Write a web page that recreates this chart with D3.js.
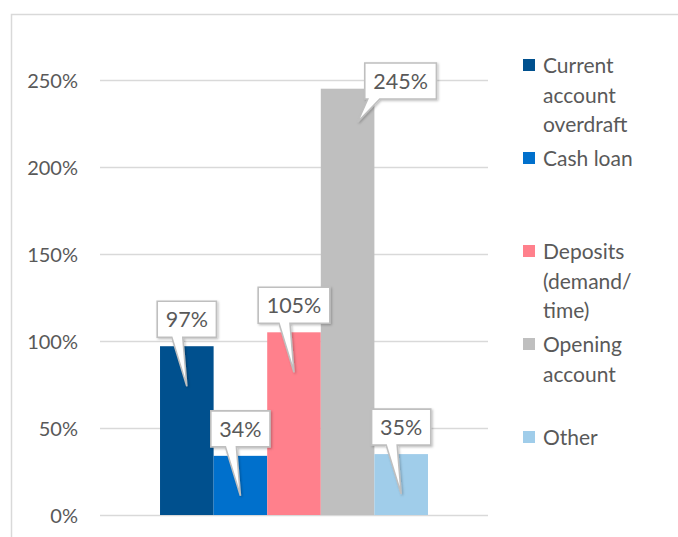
<!DOCTYPE html>
<meta charset="utf-8">
<style>
body { margin: 0; background: #fff; }
text { font-family: Lato, "Open Sans", sans-serif; fill: #595959; }
.grid line { stroke: #d9d9d9; stroke-width: 1.3px; }
.grid text { font-size: 20px; }
.legend text { font-size: 21px; }
.callout path { fill: #fff; stroke: #bfbfbf; stroke-width: 1.6px; }
.callout text { font-size: 21.5px; text-anchor: middle; }
</style>
<body>
<script src="https://cdn.jsdelivr.net/npm/d3@7"></script>
<script>

var width = 678,
    height = 537;

// chart data
var category = "Share";
var series = ["Current account overdraft", "Cash loan", "Deposits (demand/ time)", "Opening account", "Other"];
var values = [0.97, 0.34, 1.05, 2.45, 0.35];
var colors = ["#00508e", "#0070cc", "#ff808c", "#bfbfbf", "#a0cdea"];
var legendLines = [["Current", "account", "overdraft"], ["Cash loan"], ["Deposits", "(demand/", "time)"], ["Opening", "account"], ["Other"]];
var yTicks = [0, 0.5, 1, 1.5, 2, 2.5];

var plot = {left: 100, right: 488, top: 80, bottom: 515};

var svg = d3.select("body").append("svg")
    .attr("width", width)
    .attr("height", height);

var defs = svg.append("defs");
var shadow = defs.append("filter").attr("id", "shadow")
    .attr("x", "-20%").attr("y", "-20%").attr("width", "150%").attr("height", "150%");
shadow.append("feDropShadow")
    .attr("dx", 1.2).attr("dy", 1.2).attr("stdDeviation", 0.8)
    .attr("flood-color", "#000").attr("flood-opacity", 0.25);

// outer chart border
svg.append("path")
    .attr("d", "M11.5," + height + "V14.5H" + width)
    .attr("fill", "none")
    .attr("stroke", "#d9d9d9")
    .attr("stroke-width", 1.5);

var y = d3.scaleLinear().domain([0, 2.5]).range([plot.bottom, plot.top]);

var x0 = d3.scaleBand().domain([category])
    .range([plot.left, plot.right])
    .paddingInner(0.183).paddingOuter(0.183);

var x1 = d3.scaleBand().domain(series)
    .range([x0(category), x0(category) + x0.bandwidth()]);

var grid = svg.append("g")
    .attr("class", "grid")
    .attr("transform", "translate(" + plot.left + ",0)")
    .call(d3.axisLeft(y)
        .tickValues(yTicks)
        .tickFormat(d3.format(".0%"))
        .tickSize(-(plot.right - plot.left))
        .tickPadding(22));
grid.select(".domain").remove();
grid.selectAll("text").attr("dy", "0.36em");

svg.append("g").selectAll("rect")
    .data(series)
    .enter().append("rect")
    .attr("x", function(d) { return x1(d); })
    .attr("y", function(d, i) { return y(values[i]); })
    .attr("width", x1.bandwidth())
    .attr("height", function(d, i) { return y(0) - y(values[i]); })
    .attr("fill", function(d, i) { return colors[i]; });

// callout labels
var fmt = d3.format(".0%");
var boxH = 36;
series.forEach(function(s, i) {
    var cx = x1(s) + x1.bandwidth() / 2,
        top = y(values[i]);
    var g = svg.append("g").attr("class", "callout");
    var path = g.append("path").attr("filter", "url(#shadow)");
    var label = g.append("text").text(fmt(values[i]));
    var w = label.node().getComputedTextLength() + 17;

    var by = top - 45,
        clamped = by < plot.top - 16;
    if (clamped) by = plot.top - 17;
    var bcx = clamped ? cx + 53 : cx,
        bx = bcx - w / 2,
        bottom = by + boxH;
    var tipX = clamped ? cx + 10 : cx,
        tipY = clamped ? bottom + 23 : top + 40;
    var b1 = clamped ? bx + 3 : tipX - 15,
        b2 = clamped ? bx + 15 : tipX - 4;

    path.attr("d", "M" + bx + "," + by + "H" + (bx + w) + "V" + bottom +
        "H" + b2 + "L" + tipX + "," + tipY + "L" + b1 + "," + bottom +
        "H" + bx + "Z");
    label.attr("x", bcx).attr("y", by + 26);
});

// legend
var legend = svg.append("g").attr("class", "legend");
series.forEach(function(s, i) {
    var top = 58 + i * 93;
    legend.append("rect")
        .attr("x", 523).attr("y", top + 1)
        .attr("width", 12).attr("height", 12)
        .attr("fill", colors[i]);
    legendLines[i].forEach(function(line, j) {
        legend.append("text")
            .attr("x", 543)
            .attr("y", top + 15 + j * 29.5)
            .text(line);
    });
});

</script>
